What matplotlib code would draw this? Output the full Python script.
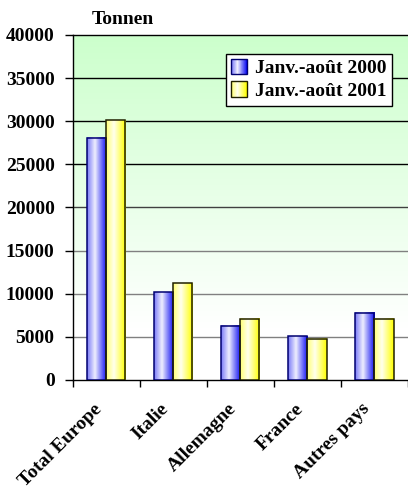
import matplotlib
matplotlib.use('Agg')
import matplotlib.pyplot as plt
import matplotlib.transforms as mtransforms
import numpy as np
from matplotlib.legend_handler import HandlerBase
from matplotlib.patches import Rectangle

# Data
categories = ['Total Europe', 'Italie', 'Allemagne', 'France', 'Autres pays']
series_names = ['Janv.-août 2000', 'Janv.-août 2001']
v2000 = [28100, 10200, 6300, 5100, 7800]
v2001 = [30100, 11200, 7100, 4800, 7100]
yticks = [0, 5000, 10000, 15000, 20000, 25000, 30000, 35000, 40000]

plt.rcParams['font.family'] = ['Liberation Serif', 'DejaVu Serif']
plt.rcParams['font.weight'] = 'bold'
FS = 14


def bar_gradient(base, n=64):
    # horizontal shading: darkish left, near white at 40%, full colour at right
    t = np.linspace(0, 1, n)
    w = np.where(t < 0.4, 0.45 + (0.93 - 0.45) * t / 0.4, 0.93 * (1 - (t - 0.4) / 0.6))
    base = np.array(base)
    cols = base[None, :] * (1 - w[:, None]) + w[:, None]
    return cols


blue_grad = bar_gradient((0.05, 0.05, 0.95))
yellow_grad = bar_gradient((1.0, 1.0, 0.0))


class GradHandler(HandlerBase):
    def __init__(self, cols, edge):
        super().__init__()
        self.cols = cols
        self.edge = edge

    def create_artists(self, legend, orig_handle, xdescent, ydescent,
                       width, height, fontsize, trans):
        side = height * 1.15
        x0 = -xdescent + (width - side) / 2
        y0 = -ydescent + (height - side) / 2
        arts = []
        n = 16
        idx = np.linspace(0, len(self.cols) - 1, n).astype(int)
        for i, k in enumerate(idx):
            r = Rectangle((x0 + i * side / n, y0), side / n * 1.05, side,
                          facecolor=self.cols[k], edgecolor='none', transform=trans)
            arts.append(r)
        arts.append(Rectangle((x0, y0), side, side, facecolor='none',
                              edgecolor=self.edge, lw=1.0, transform=trans))
        return arts


fig = plt.figure(figsize=(4.08, 4.92), dpi=100)
ax = fig.add_axes([72.7 / 408, 112 / 492, 335.3 / 408, 345 / 492])

# background gradient: pale green at top fading to white near the bottom
fy = np.linspace(0, 1, 256)
wh = np.clip((1 - fy) / 0.85, 0, 1)
bg = np.zeros((256, 1, 3))
bg[:, 0, 0] = 0.80 + 0.20 * wh
bg[:, 0, 1] = 1.0
bg[:, 0, 2] = 0.80 + 0.20 * wh
ax.imshow(bg[::-1], extent=[0, 1, 0, 1], transform=ax.transAxes,
          aspect='auto', zorder=0, origin='upper')

# gridlines, darker toward the top like the original
for yv in yticks[1:-1]:
    c = '#000000' if yv >= 25000 else ('#404040' if yv == 20000 else '#808080')
    ax.axhline(yv, color=c, lw=1.0, zorder=1)

x = np.arange(len(categories))
width = 0.285
for vals, cols, edge, off in [(v2000, blue_grad, '#000070', -width / 2),
                               (v2001, yellow_grad, '#202000', width / 2)]:
    for xi, v in zip(x, vals):
        x0 = xi + off - width / 2
        ax.imshow(cols[None, :, :], extent=[x0, x0 + width, 0, v],
                  aspect='auto', zorder=3, interpolation='bilinear')
        ax.add_patch(Rectangle((x0, 0), width, v, facecolor='none',
                               edgecolor=edge, lw=1.1, zorder=4))

ax.set_xlim(-0.5, len(categories) - 0.5)
ax.set_ylim(0, 40000)
ax.set_aspect('auto')

ax.set_yticks(yticks)
ax.set_yticklabels([str(v) for v in yticks], fontsize=FS, fontweight='bold')
ax.tick_params(axis='y', direction='out', length=6, width=1.0, pad=7)

ax.set_xticks(np.arange(-0.5, len(categories)))
ax.set_xticklabels([])
ax.tick_params(axis='x', which='major', direction='out', length=5, width=1.0)
ax.set_xticks(x, minor=True)
ax.set_xticklabels(categories, minor=True, rotation=45, ha='right', va='center',
                   rotation_mode='anchor', fontsize=FS, fontweight='bold')
ax.tick_params(axis='x', which='minor', length=0, pad=19)
shift = mtransforms.ScaledTranslation(-7 / 100, 0, fig.dpi_scale_trans)
for lbl in ax.get_xticklabels(minor=True):
    lbl.set_transform(lbl.get_transform() + shift)

ax.spines['right'].set_visible(False)
for s in ['left', 'bottom', 'top']:
    ax.spines[s].set_linewidth(1.0)
    ax.spines[s].set_color('black')

h1 = Rectangle((0, 0), 1, 1)
h2 = Rectangle((0, 0), 1, 1)
leg = ax.legend([h1, h2], series_names, loc='upper right',
                bbox_to_anchor=(0.952, 0.945), borderaxespad=0,
                handler_map={h1: GradHandler(blue_grad, '#000070'),
                             h2: GradHandler(yellow_grad, '#202000')},
                prop={'size': FS, 'weight': 'bold'}, fancybox=False,
                framealpha=1, edgecolor='black', handlelength=0.7,
                handletextpad=0.45, borderpad=0.3, labelspacing=0.25)
leg.get_frame().set_linewidth(1.0)
leg.set_zorder(10)

fig.text(123 / 408, 1 - 24 / 492, 'Tonnen', ha='center', va='baseline',
         fontsize=FS, fontweight='bold')

fig.savefig('out.png', dpi=100)
